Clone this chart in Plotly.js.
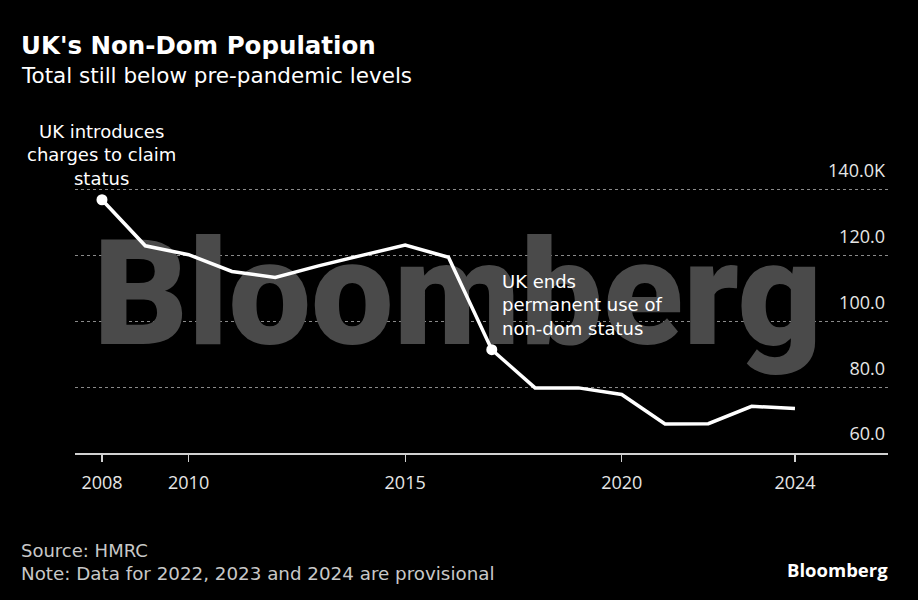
<!DOCTYPE html>
<html>
<head>
<meta charset="utf-8">
<script src="https://cdn.plot.ly/plotly-3.0.1.min.js"></script>
<style>
  html, body { margin: 0; padding: 0; background: #000; }
  #chart { width: 918px; height: 600px; }
</style>
</head>
<body>
<div id="chart"></div>
<script>
// ---- Data ----
const years = [2008, 2009, 2010, 2011, 2012, 2013, 2014, 2015, 2016, 2017, 2018, 2019, 2020, 2021, 2022, 2023, 2024];
const nonDoms = [137.0, 123.0, 120.3, 115.2, 113.4, 116.9, 120.1, 123.2, 119.5, 91.4, 79.8, 79.8, 77.8, 68.8, 68.9, 74.2, 73.5];
const xTickVals = [2008, 2010, 2015, 2020, 2024];
const xTickText = ['2008', '2010', '2015', '2020', '2024'];
const yTickVals = [60, 80, 100, 120, 140];
const yTickText = ['60.0', '80.0', '100.0', '120.0', '140.0K'];
const eventIdx = [0, 9];
const eventText = ['UK introduces<br>charges to claim<br>status', 'UK ends<br>permanent use of<br>non-dom status'];
const titleText = "UK's Non-Dom Population";
const subtitleText = 'Total still below pre-pandemic levels';
const sourceText = 'Source: HMRC';
const noteText = 'Note: Data for 2022, 2023 and 2024 are provisional';
const brandText = 'Bloomberg';

const xRange = [2007.377, 2026.148];
const yRange = [60, 150];

const FONT = 'DejaVu Sans, sans-serif';
const TICKFONT = 'Open Sans, sans-serif';

const watermark = {
  x: [(xRange[0] + xRange[1]) / 2 - 0.55], y: [104.4],
  mode: 'text', text: [brandText],
  textfont: { family: 'Roboto, Liberation Sans, sans-serif', size: 147, color: '#4a4a4a', weight: 900 },
  textposition: 'middle center',
  hoverinfo: 'skip', showlegend: false, cliponaxis: false
};

const line = {
  x: years, y: nonDoms,
  mode: 'lines', line: { color: '#ffffff', width: 3.5 },
  hoverinfo: 'skip', showlegend: false
};

const markers = {
  x: eventIdx.map(i => years[i]), y: eventIdx.map(i => nonDoms[i]),
  mode: 'markers', marker: { color: '#ffffff', size: 11 },
  hoverinfo: 'skip', showlegend: false, cliponaxis: false
};

const annotations = [
  { x: years[eventIdx[0]], y: nonDoms[eventIdx[0]], xref: 'x', yref: 'y', text: eventText[0],
    showarrow: false, xanchor: 'center', yanchor: 'bottom', yshift: 9, align: 'center',
    font: { family: FONT, size: 18, color: '#ffffff' } },
  { x: years[eventIdx[1]], y: nonDoms[eventIdx[1]], xref: 'x', yref: 'y', text: eventText[1],
    showarrow: false, xanchor: 'left', yanchor: 'bottom', xshift: 8, yshift: 9, align: 'left',
    font: { family: FONT, size: 18, color: '#ffffff' } },
  { x: 0, y: 1, xref: 'paper', yref: 'paper', xanchor: 'left', yanchor: 'middle',
    text: '<b>' + titleText + '</b>', showarrow: false, xshift: -56, yshift: 112,
    font: { family: FONT, size: 24.5, color: '#ffffff' } },
  { x: 0, y: 1, xref: 'paper', yref: 'paper', xanchor: 'left', yanchor: 'middle',
    text: subtitleText, showarrow: false, xshift: -56, yshift: 82,
    font: { family: FONT, size: 21.5, color: '#ffffff' } },
  { x: 0, y: 0, xref: 'paper', yref: 'paper', xanchor: 'left', yanchor: 'middle',
    text: sourceText, showarrow: false, xshift: -56, yshift: -97,
    font: { family: FONT, size: 18, color: '#c8c8c8' } },
  { x: 0, y: 0, xref: 'paper', yref: 'paper', xanchor: 'left', yanchor: 'middle',
    text: noteText, showarrow: false, xshift: -56, yshift: -120,
    font: { family: FONT, size: 18.3, color: '#c8c8c8' } },
  { x: 1, y: 0, xref: 'paper', yref: 'paper', xanchor: 'right', yanchor: 'middle',
    text: '<b>' + brandText + '</b>', showarrow: false, xshift: 2, yshift: -116,
    font: { family: TICKFONT, size: 18.5, color: '#ffffff' } }
];

const layout = {
  width: 918, height: 600,
  paper_bgcolor: '#000000', plot_bgcolor: '#000000',
  margin: { l: 75, r: 30, t: 157.2, b: 147.3 },
  showlegend: false,
  font: { family: TICKFONT, color: '#e6e6e6' },
  xaxis: {
    range: xRange, tickmode: 'array', tickvals: xTickVals, ticktext: xTickText,
    showgrid: false, zeroline: false,
    showline: true, linecolor: '#d0d0d0', linewidth: 1.5,
    ticks: 'outside', ticklen: 7, tickwidth: 1.2, tickcolor: '#d0d0d0',
    tickfont: { family: TICKFONT, size: 18, color: '#e6e6e6' },
    ticklabelstandoff: 6
  },
  yaxis: {
    range: yRange, side: 'right', tickmode: 'array', tickvals: yTickVals, ticktext: yTickText,
    showgrid: true, gridcolor: '#8a8a8a', gridwidth: 1, griddash: 'dot',
    zeroline: false, showline: false, ticks: '',
    ticklabelposition: 'inside', ticklabelshift: -19,
    tickfont: { family: TICKFONT, size: 18, color: '#e6e6e6' }
  },
  annotations: annotations
};

Plotly.newPlot('chart', [watermark, line, markers], layout, { displayModeBar: false, staticPlot: true });
</script>
</body>
</html>
